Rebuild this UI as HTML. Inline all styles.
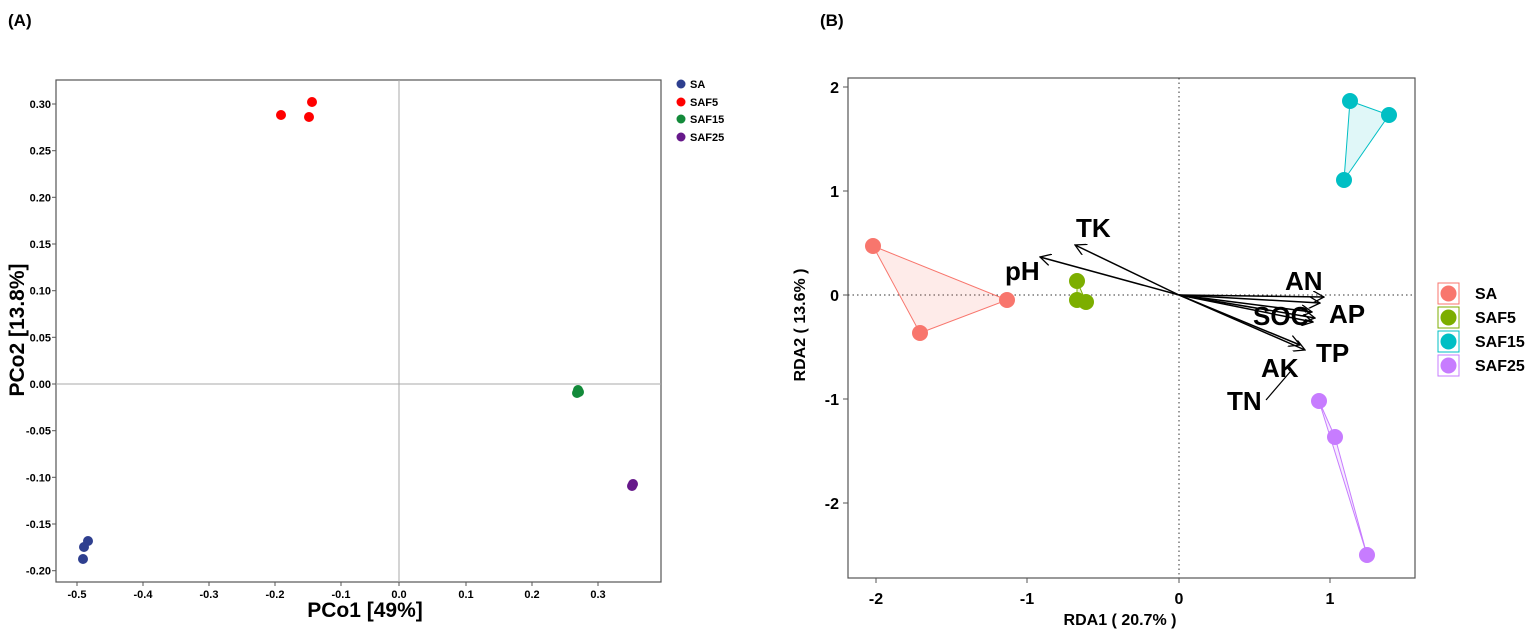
<!DOCTYPE html>
<html><head><style>body{margin:0;background:#fff}svg{display:block}text{font-family:"Liberation Sans",sans-serif;font-weight:bold}</style></head>
<body>
<svg width="1535" height="634" viewBox="0 0 1535 634" xmlns="http://www.w3.org/2000/svg">
<text x="8" y="26" font-size="17">(A)</text>
<text x="820" y="26" font-size="17">(B)</text>
<!-- Left plot -->
<rect x="56" y="80" width="605" height="502" fill="none" stroke="#555" stroke-width="1.2"/>
<line x1="399" y1="80" x2="399" y2="582" stroke="#aaa"/>
<line x1="56" y1="384" x2="661" y2="384" stroke="#aaa"/>
<g stroke="#555">
<line x1="52" y1="104" x2="56" y2="104"/><line x1="52" y1="150.7" x2="56" y2="150.7"/><line x1="52" y1="197.3" x2="56" y2="197.3"/><line x1="52" y1="244" x2="56" y2="244"/><line x1="52" y1="290.7" x2="56" y2="290.7"/><line x1="52" y1="337.3" x2="56" y2="337.3"/><line x1="52" y1="384" x2="56" y2="384"/><line x1="52" y1="430.7" x2="56" y2="430.7"/><line x1="52" y1="477.3" x2="56" y2="477.3"/><line x1="52" y1="524" x2="56" y2="524"/><line x1="52" y1="570.7" x2="56" y2="570.7"/>
<line x1="77" y1="582" x2="77" y2="586"/><line x1="143" y1="582" x2="143" y2="586"/><line x1="209" y1="582" x2="209" y2="586"/><line x1="275" y1="582" x2="275" y2="586"/><line x1="341" y1="582" x2="341" y2="586"/><line x1="399" y1="582" x2="399" y2="586"/><line x1="466" y1="582" x2="466" y2="586"/><line x1="532" y1="582" x2="532" y2="586"/><line x1="598" y1="582" x2="598" y2="586"/>
</g>
<g font-size="11" text-anchor="end">
<text x="51" y="108">0.30</text><text x="51" y="154.7">0.25</text><text x="51" y="201.3">0.20</text><text x="51" y="248">0.15</text><text x="51" y="294.7">0.10</text><text x="51" y="341.3">0.05</text><text x="51" y="388">0.00</text><text x="51" y="434.7">-0.05</text><text x="51" y="481.3">-0.10</text><text x="51" y="528">-0.15</text><text x="51" y="574.7">-0.20</text>
</g>
<g font-size="11" text-anchor="middle">
<text x="77" y="598">-0.5</text><text x="143" y="598">-0.4</text><text x="209" y="598">-0.3</text><text x="275" y="598">-0.2</text><text x="341" y="598">-0.1</text><text x="399" y="598">0.0</text><text x="466" y="598">0.1</text><text x="532" y="598">0.2</text><text x="598" y="598">0.3</text>
</g>
<text x="365" y="617" font-size="21" text-anchor="middle">PCo1 [49%]</text>
<text transform="translate(24,330) rotate(-90)" font-size="21" text-anchor="middle">PCo2 [13.8%]</text>
<g fill="#f00"><circle cx="281" cy="115" r="5"/><circle cx="309" cy="117" r="5"/><circle cx="312" cy="102" r="5"/></g>
<g fill="#2e3f8f"><circle cx="88" cy="541" r="5"/><circle cx="84" cy="547" r="5"/><circle cx="83" cy="559" r="5"/></g>
<g fill="#138a3a"><circle cx="578" cy="390" r="5"/><circle cx="577" cy="393" r="5"/><circle cx="579" cy="392" r="5"/></g>
<g fill="#66188a"><circle cx="633" cy="484" r="5"/><circle cx="632" cy="486" r="5"/></g>
<circle cx="681" cy="84" r="4.5" fill="#2e3f8f"/><circle cx="681" cy="102" r="4.5" fill="#f00"/><circle cx="681" cy="119" r="4.5" fill="#138a3a"/><circle cx="681" cy="137" r="4.5" fill="#66188a"/>
<g font-size="11"><text x="690" y="88">SA</text><text x="690" y="106">SAF5</text><text x="690" y="123">SAF15</text><text x="690" y="141">SAF25</text></g>
<!-- Right plot -->
<rect x="848" y="78" width="567" height="500" fill="none" stroke="#555" stroke-width="1.2"/>
<line x1="1179" y1="78" x2="1179" y2="578" stroke="#333" stroke-dasharray="1.5,3"/>
<line x1="848" y1="295" x2="1415" y2="295" stroke="#333" stroke-dasharray="1.5,3"/>
<g stroke="#555">
<line x1="843" y1="87" x2="848" y2="87"/><line x1="843" y1="191" x2="848" y2="191"/><line x1="843" y1="295" x2="848" y2="295"/><line x1="843" y1="399" x2="848" y2="399"/><line x1="843" y1="503" x2="848" y2="503"/>
<line x1="876" y1="578" x2="876" y2="583"/><line x1="1027" y1="578" x2="1027" y2="583"/><line x1="1179" y1="578" x2="1179" y2="583"/><line x1="1330" y1="578" x2="1330" y2="583"/>
</g>
<g font-size="16" text-anchor="end"><text x="839" y="93">2</text><text x="839" y="197">1</text><text x="839" y="301">0</text><text x="839" y="405">-1</text><text x="839" y="509">-2</text></g>
<g font-size="16" text-anchor="middle"><text x="876" y="604">-2</text><text x="1027" y="604">-1</text><text x="1179" y="604">0</text><text x="1330" y="604">1</text></g>
<text x="1120" y="625" font-size="16" text-anchor="middle">RDA1 ( 20.7% )</text>
<text transform="translate(805,325) rotate(-90)" font-size="16" text-anchor="middle">RDA2 ( 13.6% )</text>
<polygon points="873,246 920,333 1007,300" fill="#f8766d" fill-opacity="0.15" stroke="#f8766d"/>
<g fill="#f8766d"><circle cx="873" cy="246" r="8"/><circle cx="920" cy="333" r="8"/><circle cx="1007" cy="300" r="8"/></g>
<polygon points="1077,281 1077,300 1086,302" fill="#7cae00" fill-opacity="0.15" stroke="#7cae00"/>
<g fill="#7cae00"><circle cx="1077" cy="281" r="8"/><circle cx="1077" cy="300" r="8"/><circle cx="1086" cy="302" r="8"/></g>
<polygon points="1350,101 1389,115 1344,180" fill="#00bfc4" fill-opacity="0.12" stroke="#00bfc4"/>
<g fill="#00bfc4"><circle cx="1350" cy="101" r="8"/><circle cx="1389" cy="115" r="8"/><circle cx="1344" cy="180" r="8"/></g>
<polygon points="1319,401 1335,437 1367,555" fill="#c77cff" fill-opacity="0.15" stroke="#c77cff"/>
<g fill="#c77cff"><circle cx="1319" cy="401" r="8"/><circle cx="1335" cy="437" r="8"/><circle cx="1367" cy="555" r="8"/></g>
<defs><marker id="ah" markerWidth="12" markerHeight="12" refX="11" refY="6" orient="auto" markerUnits="userSpaceOnUse"><path d="M0,0 L11,6 L0,12" fill="none" stroke="#000" stroke-width="1.3"/></marker></defs>
<g stroke="#000" stroke-width="1.5" marker-end="url(#ah)">
<line x1="1179" y1="295" x2="1075" y2="245"/><line x1="1179" y1="295" x2="1040" y2="257"/>
<line x1="1179" y1="295" x2="1324" y2="297"/><line x1="1179" y1="295" x2="1320" y2="303"/>
<line x1="1179" y1="295" x2="1312" y2="312"/><line x1="1179" y1="295" x2="1315" y2="318"/>
<line x1="1179" y1="295" x2="1313" y2="322"/><line x1="1179" y1="295" x2="1300" y2="345"/>
<line x1="1179" y1="295" x2="1305" y2="350"/>
</g>
<line x1="1266" y1="400" x2="1290" y2="372" stroke="#000" stroke-width="1.2"/>
<g font-size="26">
<text x="1076" y="237">TK</text><text x="1005" y="280">pH</text><text x="1285" y="290">AN</text><text x="1253" y="325">SOC</text><text x="1329" y="323">AP</text><text x="1316" y="362">TP</text><text x="1261" y="377">AK</text><text x="1227" y="410">TN</text>
</g>
<rect x="1438" y="283" width="21" height="21" fill="none" stroke="#f8766d"/><circle cx="1448.5" cy="293.5" r="8" fill="#f8766d"/>
<rect x="1438" y="307" width="21" height="21" fill="none" stroke="#7cae00"/><circle cx="1448.5" cy="317.5" r="8" fill="#7cae00"/>
<rect x="1438" y="331" width="21" height="21" fill="none" stroke="#00bfc4"/><circle cx="1448.5" cy="341.5" r="8" fill="#00bfc4"/>
<rect x="1438" y="355" width="21" height="21" fill="none" stroke="#c77cff"/><circle cx="1448.5" cy="365.5" r="8" fill="#c77cff"/>
<g font-size="16"><text x="1475" y="299">SA</text><text x="1475" y="323">SAF5</text><text x="1475" y="347">SAF15</text><text x="1475" y="371">SAF25</text></g>
</svg>
</body></html>
